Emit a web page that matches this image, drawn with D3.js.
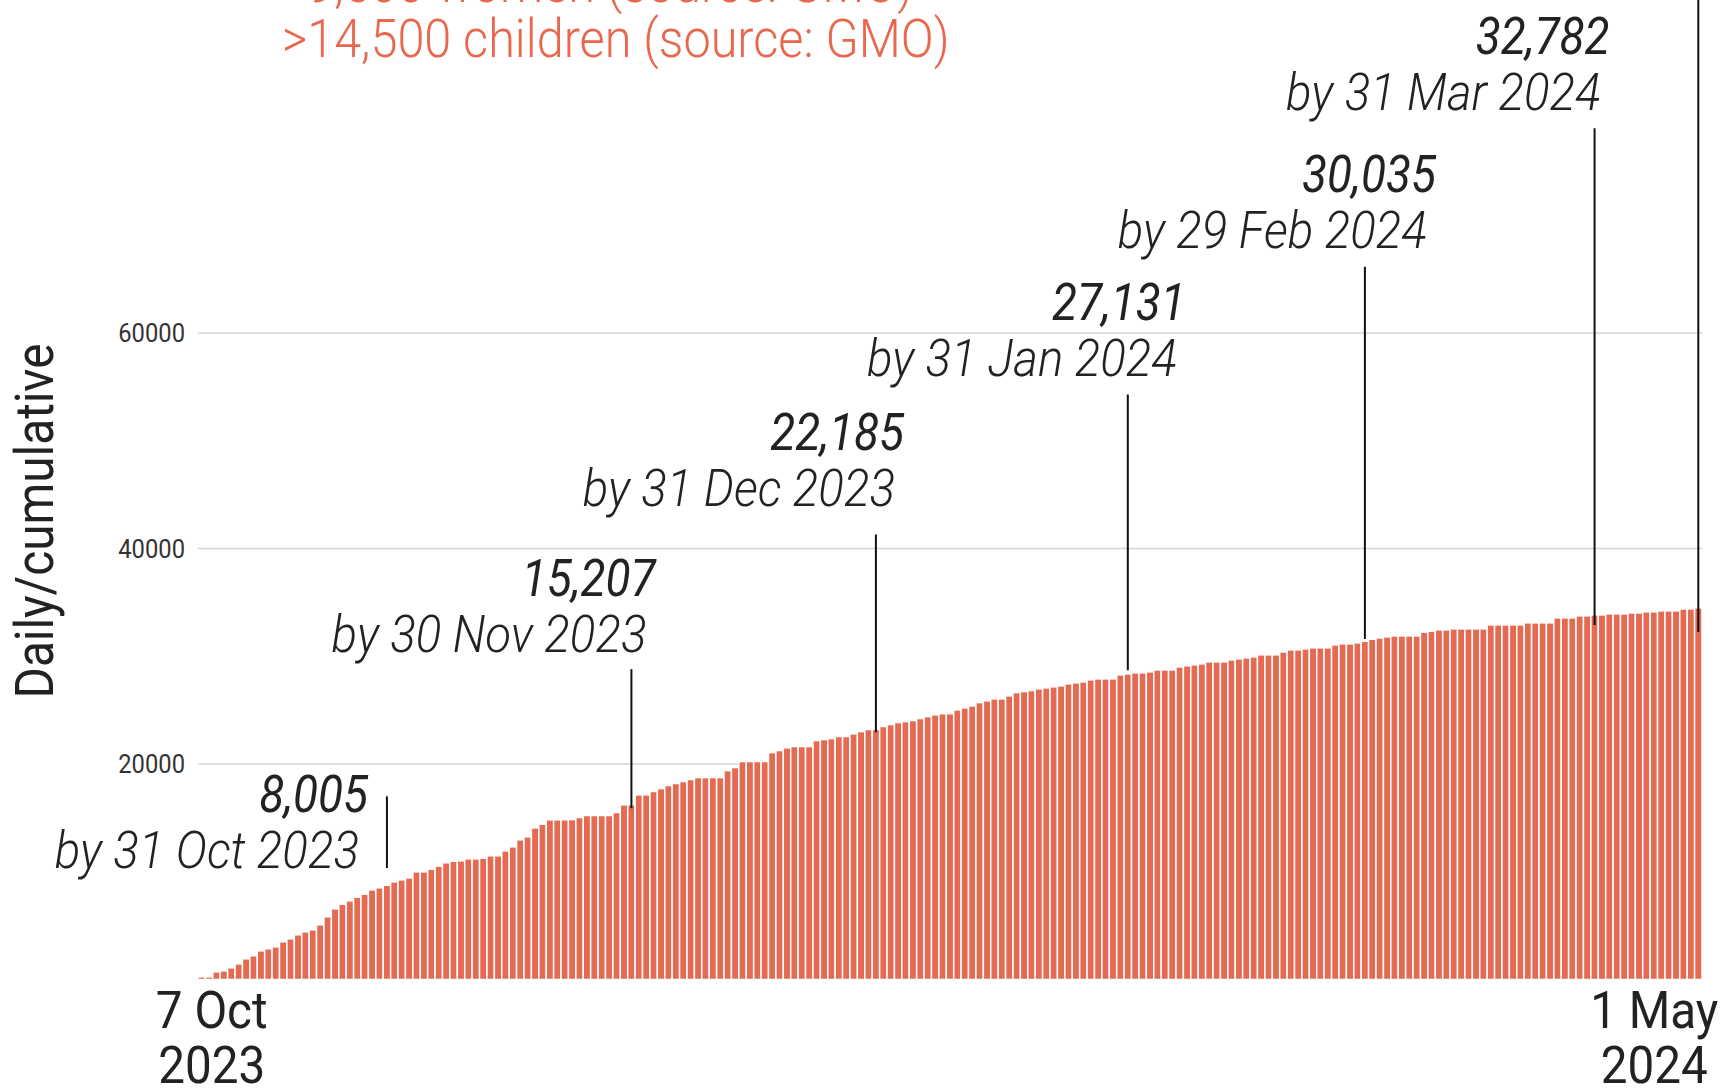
<!DOCTYPE html>
<html>
<head>
<meta charset="utf-8">
<script src="https://cdn.jsdelivr.net/npm/d3@7"></script>
<style>
  body { margin: 0; background: #fff; }
  svg text { font-family: Roboto, "Noto Sans", sans-serif; }
</style>
</head>
<body>
<div id="chart"></div>
<script>
// cumulative reported deaths, one bar per reported day, 7 Oct 2023 -> 1 May 2024
const cumulative = [
    250, 250, 710, 800, 1080, 1450, 1920, 2200, 2660, 2850,
    3030, 3500, 3770, 4150, 4420, 4610, 5070, 5820, 6560, 6990,
    7300, 7640, 7920, 8320, 8510, 8750, 9060, 9250, 9430, 9990,
    9990, 10240, 10520, 10830, 10980, 11010, 11200, 11200, 11260, 11480,
    11480, 11940, 12310, 12960, 13240, 14070, 14410, 14820, 14820, 14830,
    14840, 15030, 15220, 15220, 15220, 15220, 15500, 16210, 16210, 17140,
    17140, 17450, 17720, 18000, 18190, 18370, 18560, 18740, 18740, 18740,
    18740, 19390, 19670, 20230, 20230, 20230, 20230, 21060, 21250, 21500,
    21620, 21620, 21620, 22180, 22270, 22360, 22550, 22550, 22800, 23010,
    23200, 23200, 23480, 23660, 23850, 23940, 24030, 24220, 24400, 24560,
    24670, 24670, 25020, 25210, 25390, 25700, 25860, 26040, 26040, 26320,
    26630, 26720, 26820, 26970, 27060, 27160, 27250, 27440, 27530, 27620,
    27810, 27900, 27900, 27900, 28270, 28360, 28460, 28460, 28550, 28730,
    28730, 28730, 29010, 29110, 29200, 29290, 29480, 29480, 29480, 29660,
    29760, 29850, 29940, 30130, 30130, 30130, 30400, 30590, 30590, 30680,
    30780, 30780, 30780, 31050, 31150, 31150, 31240, 31390, 31580, 31700,
    31800, 31890, 31890, 31890, 31890, 32230, 32320, 32450, 32450, 32540,
    32540, 32540, 32540, 32540, 32910, 32910, 32910, 32910, 32910, 33100,
    33100, 33100, 33100, 33560, 33560, 33560, 33750, 33750, 33840, 33840,
    33930, 33930, 33930, 34020, 34020, 34120, 34120, 34210, 34210, 34210,
    34390, 34390, 34490
]

const xLabels = [['7 Oct', '2023'], ['1 May', '2024']]
const yTicks = [20000, 40000, 60000]
const yTitle = 'Daily/cumulative'
const headline = ['>9,500 women (source: GMO)', '>14,500 children (source: GMO)']

// month-end call-outs: bar they point at, printed total, date text, leader span (in deaths)
const noteBar = [25, 58, 91, 125, 157, 188, 202]
const noteTotal = ['8,005', '15,207', '22,185', '27,131', '30,035', '32,782', '']
const noteDate = ['by 31 Oct 2023', 'by 30 Nov 2023', 'by 31 Dec 2023', 'by 31 Jan 2024',
    'by 29 Feb 2024', 'by 31 Mar 2024', '']
const noteFrom = [17000, 28800, 41300, 54300, 66150, 79000, 95000]
const noteTo = [10350, 15900, 22950, 28700, 31600, 32900, 32250]

// label placement relative to the top of each leader (px)
const noteDx = [-28, 15, 19, 49, 62, 6, 0]
const noteDy = [72, -17, -28, -18, -19, -18, 0]

const W = 1728, H = 1091
const orange = '#e46a51'
const ink = '#222'
// Roboto squeezed horizontally as a stand-in for a condensed face
const sqDate = 0.93, sqNum = 0.9, sqText = 0.9

const svg = d3.select('#chart')
    .append('svg')
    .attr('width', W)
    .attr('height', H)

const x = d3.scaleBand()
    .domain(d3.range(cumulative.length))
    .range([198, 1702])
    .padding(0)

const y = d3.scaleLinear()
    .domain([0, 60000])
    .range([979.5, 333])

function label(g, px, py, str, sx) {
    return g.append('text')
        .attr('transform', `translate(${px},${py}) scale(${sx},1)`)
        .text(str)
}

// gridlines + tick labels
const grid = svg.append('g')
grid.selectAll('line')
    .data(yTicks)
    .enter()
    .append('line')
    .attr('x1', x.range()[0])
    .attr('x2', x.range()[1])
    .attr('y1', d => y(d))
    .attr('y2', d => y(d))
    .attr('stroke', '#d4d4d4')
    .attr('stroke-width', 1.6)

yTicks.forEach(t => {
    label(grid, 185, y(t), t, 0.95)
        .attr('text-anchor', 'end')
        .attr('dy', '0.36em')
        .attr('font-size', 25)
        .attr('fill', '#333')
})

// bars
svg.append('g')
    .selectAll('rect')
    .data(cumulative)
    .enter()
    .append('rect')
    .attr('x', (d, i) => x(i))
    .attr('width', x.bandwidth())
    .attr('y', d => y(d))
    .attr('height', d => y(0) - y(d))
    .attr('fill', orange)
    .attr('stroke', '#fff')
    .attr('stroke-width', 1.5)

// leaders and labels
const notes = svg.append('g')
noteBar.forEach((b, i) => {
    const lx = x(b) + x.bandwidth() / 2
    const top = y(noteFrom[i])
    notes.append('line')
        .attr('x1', lx).attr('x2', lx)
        .attr('y1', top).attr('y2', y(noteTo[i]))
        .attr('stroke', '#111')
        .attr('stroke-width', 2)
    if (!noteTotal[i]) return
    const tx = lx + noteDx[i], ty = top + noteDy[i]
    label(notes, tx + 9, ty - 56, noteTotal[i], sqNum)
        .attr('text-anchor', 'end')
        .attr('font-size', 51)
        .attr('font-style', 'italic')
        .attr('font-weight', 400)
        .attr('fill', ink)
    label(notes, tx, ty, noteDate[i], sqDate)
        .attr('text-anchor', 'end')
        .attr('font-size', 51)
        .attr('font-style', 'italic')
        .attr('font-weight', 300)
        .attr('fill', ink)
})

// x labels (first and last day)
const last = cumulative.length - 1
const xPos = [x(0) + x.bandwidth() / 2 + 10, x(last) + x.bandwidth() / 2 - 44]
xLabels.forEach((lines, k) => {
    lines.forEach((s, j) => {
        label(svg, xPos[k], 1028 + j * 55, s, 0.915)
            .attr('text-anchor', 'middle')
            .attr('font-size', 52)
            .attr('fill', ink)
    })
})

// axis title
svg.append('text')
    .attr('transform', `translate(53,521) rotate(-90) scale(${sqText},1)`)
    .attr('text-anchor', 'middle')
    .attr('font-size', 53)
    .attr('fill', ink)
    .text(yTitle)

// headline (partly cut off at the top)
headline.forEach((s, j) => {
    label(svg, 282, 2 + j * 55, s, sqText)
        .attr('font-size', 54)
        .attr('font-weight', 300)
        .attr('fill', '#e9674d')
})
</script>
</body>
</html>
